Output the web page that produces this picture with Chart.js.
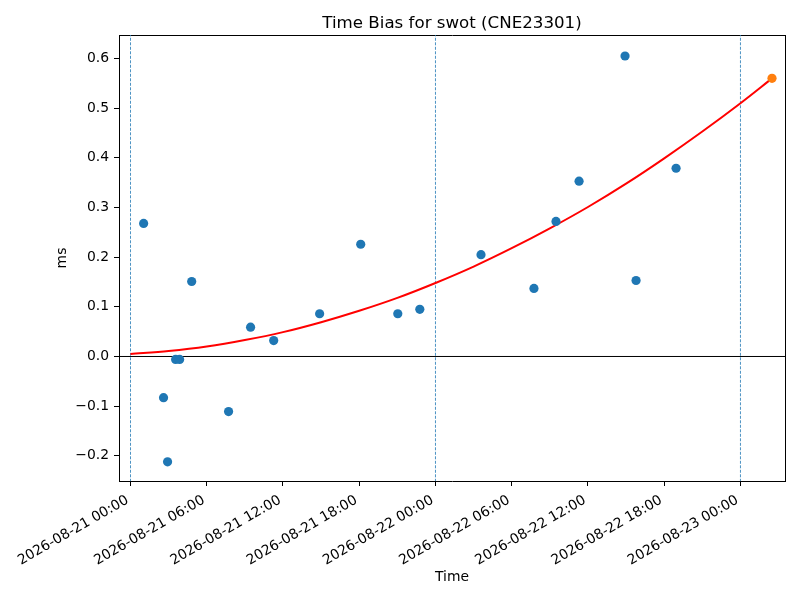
<!DOCTYPE html>
<html>
<head>
<meta charset="utf-8">
<title>Time Bias for swot (CNE23301)</title>
<script src="https://cdn.jsdelivr.net/npm/chart.js@4.4.1/dist/chart.umd.min.js"></script>
<style>
  html, body { margin: 0; padding: 0; background: #fff; }
  canvas { display: block; }
</style>
</head>
<body>
<canvas id="biasChart" width="800" height="600"></canvas>
<script>
// values
const xTickLabels = [
  '2026-08-21 00:00', '2026-08-21 06:00', '2026-08-21 12:00', '2026-08-21 18:00',
  '2026-08-22 00:00', '2026-08-22 06:00', '2026-08-22 12:00', '2026-08-22 18:00',
  '2026-08-23 00:00'
];
const yTicks = [-0.2, -0.1, 0.0, 0.1, 0.2, 0.3, 0.4, 0.5, 0.6];

const biasTimes = [
  '2026-08-21 01:02', '2026-08-21 02:36', '2026-08-21 02:55', '2026-08-21 03:33',
  '2026-08-21 03:52', '2026-08-21 04:49', '2026-08-21 07:43', '2026-08-21 09:27',
  '2026-08-21 11:16', '2026-08-21 14:53', '2026-08-21 18:07', '2026-08-21 21:02',
  '2026-08-21 22:46', '2026-08-22 03:35', '2026-08-22 07:45', '2026-08-22 09:29',
  '2026-08-22 11:18', '2026-08-22 14:55', '2026-08-22 15:47', '2026-08-22 18:56'
];
const biasValues = [
  0.268, -0.083, -0.212, -0.006,
  -0.006, 0.151, -0.111, 0.059,
  0.032, 0.086, 0.226, 0.086,
  0.095, 0.205, 0.137, 0.272,
  0.353, 0.605, 0.153, 0.379
];

const fitTimes = [
  '2026-08-21 00:00', '2026-08-21 03:00', '2026-08-21 06:00', '2026-08-21 09:00',
  '2026-08-21 12:00', '2026-08-21 15:00', '2026-08-21 18:00', '2026-08-21 21:00',
  '2026-08-22 00:00', '2026-08-22 03:00', '2026-08-22 06:00', '2026-08-22 09:00',
  '2026-08-22 12:00', '2026-08-22 15:00', '2026-08-22 18:00', '2026-08-22 21:00',
  '2026-08-23 00:00', '2026-08-23 02:29'
];
const fitValues = [
  0.005, 0.011, 0.020, 0.033,
  0.049, 0.069, 0.092, 0.118,
  0.148, 0.181, 0.218, 0.258,
  0.301, 0.348, 0.399, 0.453,
  0.510, 0.560
];

const latestTime = '2026-08-23 02:29';
const latestValue = 0.560;

const dayMarks = ['2026-08-21 00:00', '2026-08-22 00:00', '2026-08-23 00:00'];

const xRange = [-0.905, 51.505];   // hours from 2026-08-21 00:00
const yRange = [-0.2507, 0.6473];

// hours since 2026-08-21 00:00
function hoursOf(stamp) {
  const [date, time] = stamp.split(' ');
  const day = Number(date.slice(8, 10)) - 21;
  const [hh, mm] = time.split(':').map(Number);
  return day * 24 + hh + mm / 60;
}

function pairs(times, values) {
  return times.map((t, i) => ({ x: hoursOf(t), y: values[i] }));
}

const FONT = 'DejaVu Sans';
const tickFont = { family: FONT, size: 13.9 };
const blue = '#1f77b4';

const dayLineSets = dayMarks.map((d) => ({
  type: 'line',
  data: [{ x: hoursOf(d), y: -5 }, { x: hoursOf(d), y: 5 }],
  borderColor: blue,
  borderWidth: 0.8,
  borderDash: [3, 1.5],
  pointRadius: 0,
  showLine: true,
  order: 4
}));

Chart.defaults.color = '#000';
Chart.defaults.font.family = FONT;

new Chart(document.getElementById('biasChart'), {
  type: 'scatter',
  data: {
    datasets: [
      ...dayLineSets,
      {
        type: 'line',
        data: [{ x: -100, y: 0 }, { x: 100, y: 0 }],
        borderColor: '#000',
        borderWidth: 1,
        pointRadius: 0,
        showLine: true,
        order: 3
      },
      {
        type: 'line',
        data: pairs(fitTimes, fitValues),
        borderColor: '#ff0000',
        borderWidth: 2,
        pointRadius: 0,
        showLine: true,
        cubicInterpolationMode: 'monotone',
        order: 2
      },
      {
        data: pairs(biasTimes, biasValues),
        backgroundColor: blue,
        borderWidth: 0,
        pointRadius: 4.6,
        order: 1
      },
      {
        data: [{ x: hoursOf(latestTime), y: latestValue }],
        backgroundColor: '#ff7f0e',
        borderWidth: 0,
        pointRadius: 4.6,
        order: 0
      }
    ]
  },
  options: {
    responsive: false,
    animation: false,
    events: [],
    layout: { padding: 0 },
    plugins: { legend: { display: false }, tooltip: { enabled: false }, title: { display: false } },
    scales: {
      x: {
        type: 'linear',
        position: 'bottom',
        min: xRange[0],
        max: xRange[1],
        afterBuildTicks: (axis) => { axis.ticks = xTickLabels.map((l) => ({ value: hoursOf(l) })); },
        afterFit: (axis) => { axis.height = 119; },
        ticks: {
          autoSkip: false,
          minRotation: 30,
          maxRotation: 30,
          padding: 6,
          labelOffset: -3,
          font: tickFont,
          callback: (v, i) => xTickLabels[i]
        },
        grid: { drawOnChartArea: false, tickLength: 5, tickColor: '#000', tickWidth: 1 },
        border: { color: '#000', width: 1 },
        title: { display: true, text: 'Time', font: tickFont, padding: { top: 0, bottom: 14 } }
      },
      x2: {
        type: 'linear',
        position: 'top',
        min: 0,
        max: 1,
        afterFit: (axis) => { axis.height = 35; },
        ticks: { display: false },
        grid: { display: false, drawTicks: false },
        border: { color: '#000', width: 1 },
        title: {
          display: true,
          text: 'Time Bias for swot (CNE23301)',
          font: { family: FONT, size: 16.67 },
          padding: { top: 13.5, bottom: 0 }
        }
      },
      y: {
        type: 'linear',
        position: 'left',
        min: yRange[0],
        max: yRange[1],
        afterBuildTicks: (axis) => { axis.ticks = yTicks.map((v) => ({ value: v })); },
        afterFit: (axis) => { axis.width = 119; },
        ticks: {
          padding: 5,
          font: tickFont,
          callback: (v) => (v < 0 ? '\u2212' + Math.abs(v).toFixed(1) : v.toFixed(1))
        },
        grid: { drawOnChartArea: false, tickLength: 5, tickColor: '#000', tickWidth: 1 },
        border: { color: '#000', width: 1 },
        title: { display: true, text: 'ms', font: tickFont, padding: { top: 54, bottom: 0 } }
      },
      y2: {
        type: 'linear',
        position: 'right',
        min: 0,
        max: 1,
        afterFit: (axis) => { axis.width = 15; },
        ticks: { display: false },
        grid: { display: false, drawTicks: false },
        border: { color: '#000', width: 1 }
      }
    }
  }
});
</script>
</body>
</html>
